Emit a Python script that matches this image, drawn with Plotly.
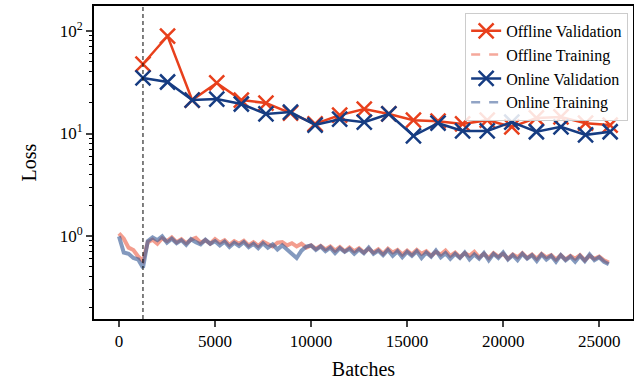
import plotly.graph_objects as go

# ---------------- data ----------------
val_batches = [1250, 2530, 3810, 5090, 6370, 7650, 8930, 10210, 11490, 12770,
               14050, 15330, 16610, 17890, 19170, 20450, 21730, 23010, 24290, 25570]
offline_val = [47.6, 89.3, 21.2, 31.1, 21.2, 19.8, 15.8, 12.4, 15.1, 17.3,
               15.5, 13.5, 13.2, 12.4, 13.5, 11.6, 14.2, 14.5, 12.6, 12.1]
online_val = [34.8, 31.8, 21.2, 21.7, 19.4, 15.5, 16.2, 12.1, 13.8, 12.9,
              15.5, 9.5, 12.6, 10.6, 10.6, 12.9, 10.4, 11.6, 9.7, 10.4]

train_batches = [250 * i for i in range(103)]
offline_train = [1.06, 0.94, 0.77, 0.73, 0.63, 0.57, 0.87, 0.92, 0.84, 0.95,
                 0.89, 0.97, 0.87, 0.93, 0.85, 0.92, 0.96, 0.86, 0.91, 0.84,
                 0.93, 0.86, 0.91, 0.82, 0.89, 0.84, 0.90, 0.81, 0.87, 0.80,
                 0.88, 0.83, 0.79, 0.86, 0.87, 0.81, 0.85, 0.79, 0.84, 0.77,
                 0.81, 0.75, 0.80, 0.74, 0.79, 0.72, 0.78, 0.71, 0.77, 0.71,
                 0.76, 0.69, 0.75, 0.69, 0.74, 0.67, 0.75, 0.69, 0.73, 0.66,
                 0.72, 0.66, 0.73, 0.67, 0.71, 0.64, 0.70, 0.66, 0.72, 0.64,
                 0.69, 0.62, 0.68, 0.64, 0.70, 0.62, 0.67, 0.61, 0.68, 0.63,
                 0.67, 0.60, 0.66, 0.62, 0.68, 0.61, 0.66, 0.60, 0.67, 0.62,
                 0.65, 0.59, 0.65, 0.59, 0.64, 0.60, 0.65, 0.58, 0.64, 0.60,
                 0.63, 0.58, 0.55]
online_train = [0.99, 0.69, 0.67, 0.61, 0.59, 0.49, 0.89, 0.97, 0.91, 0.99,
                0.86, 0.94, 0.85, 0.91, 0.82, 0.93, 0.87, 0.83, 0.92, 0.84,
                0.89, 0.81, 0.88, 0.78, 0.86, 0.80, 0.87, 0.78, 0.84, 0.76,
                0.85, 0.77, 0.83, 0.74, 0.81, 0.74, 0.66, 0.61, 0.72, 0.79,
                0.81, 0.73, 0.79, 0.71, 0.77, 0.68, 0.76, 0.70, 0.75, 0.67,
                0.74, 0.68, 0.77, 0.67, 0.72, 0.65, 0.73, 0.64, 0.71, 0.62,
                0.70, 0.64, 0.71, 0.61, 0.69, 0.63, 0.72, 0.62, 0.68, 0.60,
                0.67, 0.61, 0.69, 0.59, 0.66, 0.60, 0.68, 0.58, 0.67, 0.61,
                0.69, 0.59, 0.65, 0.58, 0.67, 0.60, 0.65, 0.57, 0.66, 0.59,
                0.64, 0.56, 0.65, 0.58, 0.63, 0.56, 0.64, 0.57, 0.66, 0.58,
                0.62, 0.56, 0.53]

switch_batch = 1250
x_ticks = [0, 5000, 10000, 15000, 20000, 25000]
x_tick_text = ["0", "5000", "10000", "15000", "20000", "25000"]
y_ticks = [1, 10, 100]
y_tick_text = ["10<sup>0</sup>", "10<sup>1</sup>", "10<sup>2</sup>"]
y_minor = [0.2, 0.3, 0.4, 0.5, 0.6, 0.7, 0.8, 0.9,
           2, 3, 4, 5, 6, 7, 8, 9, 20, 30, 40, 50, 60, 70, 80, 90]

RED = "#E8401C"
NAVY = "#163C82"
RED_TRAIN = "rgba(238,110,88,0.68)"
NAVY_TRAIN = "rgba(55,90,150,0.62)"
RED_LEG = "rgba(238,110,88,0.6)"
NAVY_LEG = "rgba(55,90,150,0.55)"
FONT = "Liberation Serif"

fig = go.Figure()
fig.add_trace(go.Scatter(x=train_batches, y=offline_train, mode="lines",
                         line=dict(color=RED_TRAIN, width=4), showlegend=False,
                         hoverinfo="skip"))
fig.add_trace(go.Scatter(x=train_batches, y=online_train, mode="lines",
                         line=dict(color=NAVY_TRAIN, width=4), showlegend=False,
                         hoverinfo="skip"))
fig.add_trace(go.Scatter(x=val_batches, y=offline_val, mode="lines+markers",
                         name="Offline Validation",
                         line=dict(color=RED, width=2.5),
                         marker=dict(symbol="x-thin", size=15, line=dict(color=RED, width=2.5))))
fig.add_trace(go.Scatter(x=[None], y=[None], mode="lines", name="Offline Training",
                         line=dict(color=RED_LEG, width=2.5, dash="dash")))
fig.add_trace(go.Scatter(x=val_batches, y=online_val, mode="lines+markers",
                         name="Online Validation",
                         line=dict(color=NAVY, width=2.5),
                         marker=dict(symbol="x-thin", size=15, line=dict(color=NAVY, width=2.5))))
fig.add_trace(go.Scatter(x=[None], y=[None], mode="lines", name="Online Training",
                         line=dict(color=NAVY_LEG, width=2.5, dash="dash")))

fig.add_vline(x=switch_batch, line=dict(color="black", width=1, dash="4px,3px"))

fig.update_layout(
    width=634, height=381,
    margin=dict(l=94, r=1, t=6, b=62),
    paper_bgcolor="white", plot_bgcolor="white",
    font=dict(family=FONT, size=17, color="black"),
    legend=dict(x=0.991, y=0.978, xanchor="right", yanchor="top",
                bgcolor="rgba(255,255,255,0.85)", bordercolor="#cccccc", borderwidth=1,
                font=dict(family=FONT, size=16), tracegroupgap=0),
    showlegend=True,
)
fig.update_xaxes(range=[-1300, 26760], tickvals=x_ticks, ticktext=x_tick_text,
                 ticks="outside", ticklen=6, automargin=False,
                 tickwidth=1.5, showline=True, linewidth=2, linecolor="black", mirror=True,
                 showgrid=False, zeroline=False, tickfont=dict(size=17),
                 title=dict(text="Batches", font=dict(size=20), standoff=12))
fig.update_yaxes(type="log", range=[-0.81, 2.244], tickvals=y_ticks, ticktext=y_tick_text,
                 ticks="outside", ticklen=6, tickwidth=1.5, showline=True, linewidth=2,
                 linecolor="black", mirror=True, showgrid=False, zeroline=False,
                 automargin=False, tickfont=dict(size=17),
                 minor=dict(tickvals=y_minor, ticks="outside", ticklen=3.5, tickwidth=1,
                            tickcolor="black", showgrid=False),
                 title=dict(text="Loss", font=dict(size=20), standoff=18))

fig.write_html("out.html", config={"displayModeBar": False},
               post_script="document.body.style.margin='0';document.body.style.padding='0';")
